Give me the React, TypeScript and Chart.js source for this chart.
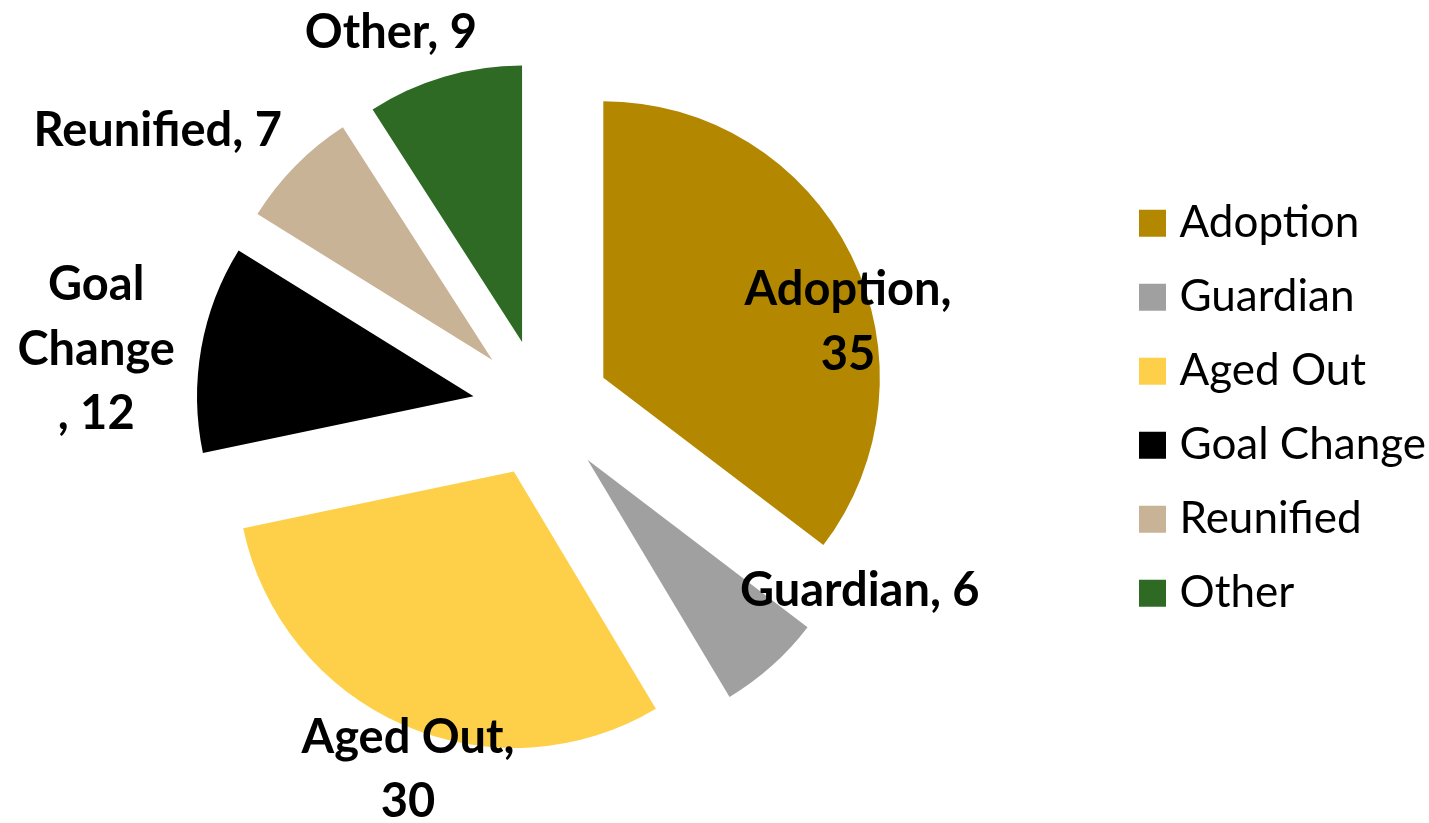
import React, { useEffect, useRef } from "react";
import { Chart, registerables } from "chart.js";

Chart.register(...registerables);

// ---- data ----
const categories = ["Adoption", "Guardian", "Aged Out", "Goal Change", "Reunified", "Other"];
const counts = [35, 6, 30, 12, 7, 9];
const sliceColors = ["#B38800", "#A0A0A0", "#FED049", "#000000", "#C9B397", "#2E6A24"];

// ---- label placement (relative to each exploded slice) ----
const labelAngleShift = [13.2, -22.8, -4, -2.7, -9.9, -6.5]; // degrees from slice bisector
const labelDistance = [0.909, 1.09, 1.139, 1.376, 1.471, 1.221]; // fraction of radius
const labelWrapWidth = [250, Infinity, 250, 120, Infinity, Infinity];

const PIE_RADIUS = 276.5;
const EXPLODE = 69;
const FONT = "Lato";
const LABEL_SIZE = 47;
const LEGEND_SIZE = 44;
const LINE_HEIGHT = 64.5;
const CAP_RATIO = 0.7165;
const CANVAS_SHIFT = 35;

function wrapLabel(ctx: CanvasRenderingContext2D, cat: string, value: number, maxW: number): string[] {
  const words = cat.split(" ");
  const lines: string[] = [];
  let cur = "";
  for (const w of words) {
    const t = cur ? cur + " " + w : w;
    if (cur && ctx.measureText(t).width > maxW) {
      lines.push(cur);
      cur = w;
    } else cur = t;
  }
  const withComma = cur + ",";
  const full = withComma + " " + value;
  if (ctx.measureText(full).width <= maxW) lines.push(full);
  else if (ctx.measureText(withComma).width <= maxW) {
    lines.push(withComma);
    lines.push(String(value));
  } else {
    lines.push(cur);
    lines.push(", " + value);
  }
  return lines;
}

const explodedPie = {
  id: "explodedPie",
  beforeDatasetsDraw(chart: any) {
    const ctx: CanvasRenderingContext2D = chart.ctx;
    const meta = chart.getDatasetMeta(0);
    const arcs = meta.data;
    const labels: string[] = chart.data.labels;
    const values: number[] = chart.data.datasets[0].data;

    arcs.forEach((arc: any) => {
      const { startAngle, endAngle } = arc.getProps(["startAngle", "endAngle"], true);
      const mid = (startAngle + endAngle) / 2;
      ctx.save();
      ctx.translate(Math.cos(mid) * EXPLODE, Math.sin(mid) * EXPLODE);
      arc.draw(ctx);
      ctx.restore();
    });

    ctx.save();
    ctx.font = `bold ${LABEL_SIZE}px ${FONT}`;
    ctx.fillStyle = "#000000";
    ctx.textAlign = "center";
    ctx.textBaseline = "alphabetic";
    const capH = CAP_RATIO * LABEL_SIZE;
    arcs.forEach((arc: any, i: number) => {
      const { x, y, startAngle, endAngle, outerRadius } = arc.getProps(
        ["x", "y", "startAngle", "endAngle", "outerRadius"],
        true
      );
      const mid = (startAngle + endAngle) / 2;
      const vx = x + Math.cos(mid) * EXPLODE;
      const vy = y + Math.sin(mid) * EXPLODE;
      const a = mid + (labelAngleShift[i] * Math.PI) / 180;
      const r = labelDistance[i] * outerRadius;
      const cx = vx + Math.cos(a) * r;
      const cy = vy + Math.sin(a) * r;
      const lines = wrapLabel(ctx, labels[i], values[i], labelWrapWidth[i]);
      lines.forEach((ln, k) => {
        const capCenter = cy + (k - (lines.length - 1) / 2) * LINE_HEIGHT;
        ctx.fillText(ln, cx, capCenter + capH / 2);
      });
    });
    ctx.restore();
    return false;
  },
};

export default function App() {
  const ref = useRef<HTMLCanvasElement>(null);
  useEffect(() => {
    const chart = new Chart(ref.current!, {
      type: "pie",
      data: {
        labels: categories,
        datasets: [
          {
            data: counts,
            backgroundColor: sliceColors,
            borderWidth: 0,
            radius: PIE_RADIUS,
          } as any,
        ],
      },
      options: {
        animation: false,
        responsive: false,
        events: [],
        layout: { padding: { left: 0.5, right: 0, top: 0, bottom: 6.4 } },
        plugins: {
          legend: {
            position: "right",
            align: "center",
            maxWidth: 311.5,
            labels: {
              font: { family: FONT, size: LEGEND_SIZE },
              color: "#000000",
              usePointStyle: true,
              pointStyle: "rect",
              boxWidth: 10,
              boxHeight: 27,
              padding: 30,
            },
          },
          tooltip: { enabled: false },
        },
      } as any,
      plugins: [explodedPie as any],
    });
    return () => chart.destroy();
  }, []);
  return (
    <div
      style={{
        position: "fixed",
        left: -CANVAS_SHIFT,
        top: 0,
        width: 1429 + CANVAS_SHIFT,
        height: 823,
        background: "#ffffff",
      }}
    >
      <canvas ref={ref} width={1429 + CANVAS_SHIFT} height={823} style={{ display: "block" }} />
    </div>
  );
}
